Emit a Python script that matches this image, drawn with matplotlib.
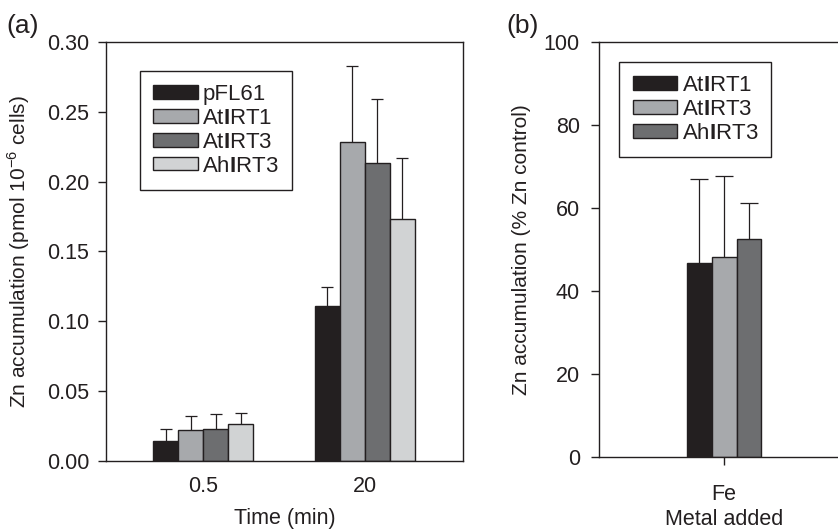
import numpy as np
import matplotlib
matplotlib.use("Agg")
import matplotlib.pyplot as plt

plt.rcParams['font.family'] = ['Liberation Sans', 'DejaVu Sans']
plt.rcParams['mathtext.fontset'] = 'custom'
plt.rcParams['mathtext.rm'] = 'Liberation Sans'
plt.rcParams['mathtext.bf'] = 'Liberation Sans:bold'
plt.rcParams['text.color'] = '#231f20'
plt.rcParams['axes.labelcolor'] = '#231f20'
plt.rcParams['xtick.color'] = '#231f20'
plt.rcParams['ytick.color'] = '#231f20'

# panel (a): time course
times = ['0.5', '20']
strains_a = ['pFL61', 'At$\\mathbf{I}$RT1', 'At$\\mathbf{I}$RT3',
             'Ah$\\mathbf{I}$RT3']
zn_a = [[0.0143, 0.111],
        [0.0218, 0.228],
        [0.0225, 0.213],
        [0.0261, 0.173]]
err_a = [[0.0082, 0.0135],
         [0.0100, 0.055],
         [0.0112, 0.046],
         [0.0081, 0.044]]

# panel (b): competition with Fe
metals = ['Fe']
strains_b = ['At$\\mathbf{I}$RT1', 'At$\\mathbf{I}$RT3', 'Ah$\\mathbf{I}$RT3']
zn_b = [[46.9], [48.2], [52.6]]
err_b = [[20.1], [19.6], [8.6]]

colors_a = ['#231f20', '#a7a9ac', '#6d6e70', '#d1d3d4']
colors_b = ['#231f20', '#a7a9ac', '#6d6e70']
edge = '#231f20'
FS = 15.5


def draw_bars(ax, cats, names, vals, errs, colors, width, capsize):
    x = np.arange(len(cats))
    n = len(names)
    for i, (name, v, e, c) in enumerate(zip(names, vals, errs, colors)):
        pos = x + (i - (n - 1) / 2.0) * width
        ax.bar(pos, v, width, color=c, edgecolor=edge, linewidth=1.0,
               label=name, zorder=2)
        _, caps, _ = ax.errorbar(pos, v, yerr=[np.zeros(len(v)), e],
                                 fmt='none', ecolor=edge, elinewidth=0.9,
                                 capsize=capsize, capthick=0.9, zorder=1)
        # only the upper whisker is shown
        caps[0].set_visible(False)
    ax.set_xticks(x)
    ax.set_xticklabels(cats)


def add_legend(ax, anchor):
    leg = ax.legend(loc='upper left', bbox_to_anchor=anchor,
                    borderaxespad=0, fontsize=16, fancybox=False,
                    edgecolor=edge, handlelength=2.0, handleheight=0.55,
                    handletextpad=0.2, labelspacing=0.13, borderpad=0.6,
                    framealpha=1)
    leg.get_frame().set_linewidth(1.0)


fig = plt.figure(figsize=(8.38, 5.30), dpi=100)

ax1 = fig.add_axes([0.1265, 0.1308, 0.4256, 0.790])
draw_bars(ax1, times, strains_a, zn_a, err_a, colors_a, 0.155, 4.3)
ax1.set_xlim(-0.603, 1.607)
ax1.set_ylim(0, 0.30)
ax1.set_yticks(np.arange(0, 0.301, 0.05))
ax1.set_yticklabels(['%.2f' % t for t in np.arange(0, 0.301, 0.05)])
ax1.tick_params(axis='x', length=0, pad=11, labelsize=FS)
ax1.tick_params(axis='y', direction='out', length=6, width=1, pad=6,
                labelsize=FS)
ax1.set_xlabel('Time (min)', fontsize=FS)
ax1.set_ylabel('Zn accumulation (pmol 10$^{-6}$ cells)', fontsize=15)
ax1.xaxis.set_label_coords(0.5, -0.113)
ax1.yaxis.set_label_coords(-0.2075, 0.5)
add_legend(ax1, (0.0953, 0.9315))

ax2 = fig.add_axes([0.7152, 0.1372, 0.2976, 0.7836])
draw_bars(ax2, metals, strains_b, zn_b, err_b, colors_b, 0.1, 6.5)
ax2.set_xlim(-0.5, 0.5)
ax2.set_ylim(0, 100)
ax2.set_yticks(np.arange(0, 101, 20))
ax2.tick_params(axis='x', direction='out', length=6, width=1, pad=13,
                labelsize=FS)
ax2.tick_params(axis='y', direction='out', length=6, width=1, pad=8,
                labelsize=FS)
ax2.set_xlabel('Metal added', fontsize=FS)
ax2.set_ylabel('Zn accumulation (% Zn control)', fontsize=15)
ax2.xaxis.set_label_coords(0.5, -0.125)
ax2.yaxis.set_label_coords(-0.274, 0.5)
add_legend(ax2, (0.080, 0.9526))

for ax in (ax1, ax2):
    for s in ax.spines.values():
        s.set_linewidth(1.0)
        s.set_color(edge)

fig.text(0.008, 0.95, '(a)', fontsize=19, va='center', ha='left')
fig.text(0.604, 0.95, '(b)', fontsize=19, va='center', ha='left')

fig.savefig('out.png', dpi=100)
